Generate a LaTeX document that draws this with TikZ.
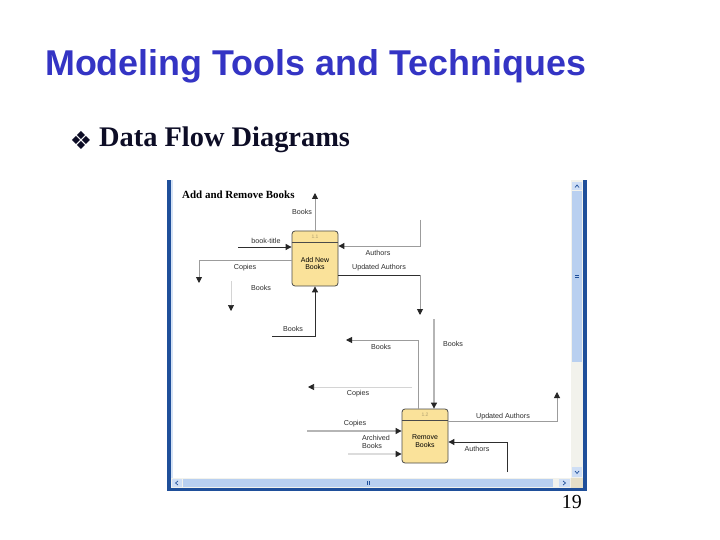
\documentclass[tikz,border=0pt]{standalone}
\usepackage{fontspec}
\setmainfont{Liberation Serif}
\setsansfont{Liberation Sans}
\newfontfamily\dingfont{DejaVu Sans}
\usetikzlibrary{arrows.meta,positioning,calc}
\definecolor{slideBlue}{HTML}{3434C4}
\definecolor{slideInk}{HTML}{0D0D26}
\definecolor{winFrame}{HTML}{1F4F9A}
\definecolor{winThumb}{HTML}{B9D0F0}
\definecolor{winTrack}{HTML}{F2F2EC}
\definecolor{winCorner}{HTML}{E6DFC8}
\definecolor{procFill}{HTML}{FAE29A}
\definecolor{procEdge}{HTML}{4A4A4A}
\definecolor{procNum}{HTML}{B0A070}
\definecolor{flowDark}{HTML}{2E2E2E}
\definecolor{flowGray}{HTML}{9C9C9C}
\definecolor{flowFaint}{HTML}{D4D4D4}

\tikzset{
  proc/.style={draw=procEdge,line width=0.8bp,fill=procFill,rounded corners=3bp,
               minimum width=46bp,minimum height=55bp,inner sep=0pt},
  proclbl/.style={font=\sffamily\fontsize{7}{8}\selectfont,align=center,inner sep=0pt},
  procnum/.style={font=\sffamily\fontsize{5}{6}\selectfont,text=procNum,inner sep=0pt},
  flowlbl/.style={font=\sffamily\fontsize{7.2}{8.2}\selectfont,inner sep=1bp,text=flowDark},
  flowtip/.style={-{Triangle[length=6bp,width=6bp,color=black!85]}},
  dk/.style={draw=flowDark,line width=0.9bp},
  gy/.style={draw=flowGray,line width=0.9bp},
  fa/.style={draw=flowFaint,line width=0.7bp},
  chev/.style={draw=winFrame,line width=0.7bp},
}

\begin{document}
\begin{tikzpicture}[x=1bp,y=-1bp]
  \useasboundingbox (0,0) rectangle (720,540);

  % slide text
  \node[anchor=base west,inner sep=0,text=slideBlue,
        font=\sffamily\bfseries\fontsize{36}{40}\selectfont] (title) at (45,76)
        {Modeling Tools and Techniques};
  \node[inner sep=0,text=slideInk,
        font=\dingfont\fontsize{25}{28}\selectfont] (bullet) at (81,140) {❖};
  \node[anchor=base west,inner sep=0,text=slideInk,
        font=\bfseries\fontsize{28.5}{32}\selectfont] (subtitle) at (99,147)
        {Data Flow Diagrams};
  \node[anchor=base east,inner sep=0,font=\fontsize{20}{24}\selectfont]
        (pageno) at (582,508) {19};

  % screenshot window
  \fill[white] (171,180) rectangle (571,478);
  \fill[winFrame] (167,180) rectangle (171,491);
  \fill[winThumb!60] (171,180) rectangle (172.5,478);
  \fill[winFrame] (583,180) rectangle (587,491);
  \fill[winFrame] (167,488) rectangle (587,491);
  \fill[winTrack] (571,180) rectangle (583,478);
  \fill[winThumb] (572,191) rectangle (582,362);
  \fill[winThumb!70] (572,182) rectangle (582,190);
  \fill[winThumb!70] (572,467) rectangle (582,477);
  \fill[winTrack] (171,478) rectangle (571,488);
  \fill[winThumb] (183,479) rectangle (553,487);
  \fill[winThumb!70] (172,479) rectangle (182,487);
  \fill[winThumb!70] (559,479) rectangle (570,487);
  \fill[winCorner] (571,478) rectangle (583,488);
  \draw[chev] (575,187.5) -- (577,185) -- (579,187.5);
  \draw[chev] (575,471) -- (577,473.5) -- (579,471);
  \draw[chev] (178,481) -- (175.5,483) -- (178,485);
  \draw[chev] (563,481) -- (565.5,483) -- (563,485);
  \draw[chev] (575,275) -- (579,275) (575,277) -- (579,277);
  \draw[chev] (367,481) -- (367,485) (369,481) -- (369,485);

  % diagram title
  \node[anchor=base west,inner sep=0,font=\bfseries\fontsize{11}{13}\selectfont]
        (dtitle) at (182,199) {Add and Remove Books};

  % processes
  \node[proc] (p1) at (315,258.5) {};
  \draw[procEdge,line width=0.7bp] ([yshift=-12bp]p1.north west) -- ([yshift=-12bp]p1.north east);
  \node[procnum] (p1n) at ([yshift=-6bp]p1.north) {1.1};
  \node[proclbl] (p1t) at ([yshift=-5bp]p1.center) {Add New\\Books};

  \node[proc,minimum height=54bp] (p2) at (425,436) {};
  \draw[procEdge,line width=0.7bp] ([yshift=-12bp]p2.north west) -- ([yshift=-12bp]p2.north east);
  \node[procnum] (p2n) at ([yshift=-6bp]p2.north) {1.2};
  \node[proclbl] (p2t) at ([yshift=-5bp]p2.center) {Remove\\Books};

  % free ends of the flows
  \coordinate (bkUp)   at (315,193);
  \coordinate (btIn)   at (238,247);
  \coordinate (cpBend) at (199,260);
  \coordinate (cpOut)  at (199,283);
  \coordinate (bkFtA)  at (231,281);
  \coordinate (bkFtB)  at (231,311);
  \coordinate (bkIn)   at (272,336);
  \coordinate (auIn)   at (420,220);
  \coordinate (uaOut)  at (420,315);
  \coordinate (bkLeft) at (346,340);
  \coordinate (bkDown) at (434,319);
  \coordinate (cpFtA)  at (412,387);
  \coordinate (cpFtB)  at (308,387);
  \coordinate (cpIn)   at (307,431);
  \coordinate (arIn)   at (348,454);
  \coordinate (ua2Out) at (557,392);
  \coordinate (au2In)  at (507,472);

  % flows of 1.1
  \draw[gy,flowtip] (p1.north) -- (bkUp);
  \draw[dk,flowtip] (btIn) -- (btIn -| p1.west);
  \draw[gy,flowtip] (cpBend -| p1.west) -- (cpBend) -- (cpOut);
  \draw[fa,flowtip] (bkFtA) -- (bkFtB);
  \draw[dk,flowtip] (bkIn) -| (p1.south);
  \draw[gy,flowtip] (auIn) |- ([yshift=12.5bp]p1.east);
  \draw[dk] ([yshift=-16.5bp]p1.east) -- ([yshift=-16.5bp]p1.east -| uaOut);
  \draw[gy,flowtip] ([yshift=-16.5bp]p1.east -| uaOut) -- (uaOut);

  % flows of 1.2
  \draw[gy,flowtip] ([xshift=-7bp]p2.north) |- (bkLeft);
  \draw[dk,flowtip] (bkDown) -- ([xshift=9bp]p2.north);
  \draw[fa,flowtip] (cpFtA) -- (cpFtB);
  \draw[dk,flowtip] (cpIn) -- ([yshift=5bp]p2.west);
  \draw[gy,flowtip] (arIn) -- ([yshift=-18bp]p2.west);
  \draw[gy,flowtip] ([yshift=15bp]p2.east) -| (ua2Out);
  \draw[dk,flowtip] (au2In) |- ([yshift=-6bp]p2.east);

  % flow labels
  \node[flowlbl] (lBk1) at (302,212) {Books};
  \node[flowlbl] (lBt)  at (266,241) {book-title};
  \node[flowlbl] (lCp1) at (245,268) {Copies};
  \node[flowlbl] (lBk2) at (261,288) {Books};
  \node[flowlbl] (lBk3) at (293,329) {Books};
  \node[flowlbl] (lAu1) at (378,253) {Authors};
  \node[flowlbl] (lUa1) at (379,268) {Updated Authors};
  \node[flowlbl] (lBk4) at (381,347) {Books};
  \node[flowlbl] (lBk5) at (453,344) {Books};
  \node[flowlbl] (lCp2) at (358,394) {Copies};
  \node[flowlbl] (lCp3) at (355,424) {Copies};
  \node[flowlbl,align=left] (lAr) at (376,442) {Archived\\Books};
  \node[flowlbl] (lUa2) at (503,417) {Updated Authors};
  \node[flowlbl] (lAu2) at (477,449) {Authors};
\end{tikzpicture}
\end{document}
